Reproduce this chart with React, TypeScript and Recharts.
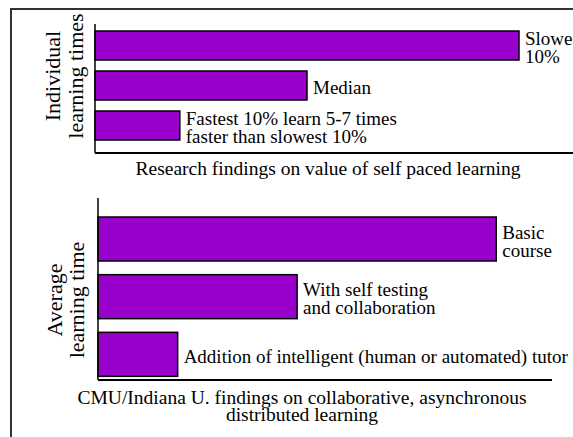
import React from "react";
import { BarChart, Bar, XAxis, YAxis } from "recharts";

// 色とフォント
const PURPLE = "#9900CC";
const FONT = "Liberation Serif, Times New Roman, serif";

// 上のパネル: 個人の学習時間
const topCategories = ["Slowest 10%", "Median", "Fastest 10%"];
const topValues = [100, 50, 20];
const topLabels = [
  ["Slowest", "10%"],
  ["Median"],
  ["Fastest 10% learn 5-7 times", "faster than slowest 10%"],
];
const topTitle = ["Individual", "learning times"];
const topCaption = ["Research findings on value of self paced learning"];

// 下のパネル: 平均学習時間
const bottomCategories = ["Basic course", "Self testing", "Tutor"];
const bottomValues = [100, 50, 20];
const bottomLabels = [
  ["Basic", "course"],
  ["With self testing", "and collaboration"],
  ["Addition of intelligent (human or automated) tutor"],
];
const bottomTitle = ["Average", "learning time"];
const bottomCaption = [
  "CMU/Indiana U. findings on collaborative, asynchronous",
  "distributed learning",
];

const topData = topCategories.map((name, i) => ({
  name,
  value: topValues[i],
  lines: topLabels[i],
}));
const bottomData = bottomCategories.map((name, i) => ({
  name,
  value: bottomValues[i],
  lines: bottomLabels[i],
}));

// 棒と右側の注記を一緒に描く
const LabeledBar = (props: any) => {
  const { x, y, width, height, payload } = props;
  const lines: string[] = payload?.lines ?? [];
  const lh = 18;
  const tx = x + width + 6;
  const cy = y + height / 2 + 2;
  const startY = cy - ((lines.length - 1) * lh) / 2 + 6.5;
  return (
    <g>
      <rect
        x={x}
        y={y}
        width={width}
        height={height}
        fill={PURPLE}
        stroke="#000"
        strokeWidth={1.5}
      />
      <text x={tx} fill="#000" fontFamily={FONT} fontSize={19}>
        {lines.map((l, i) => (
          <tspan key={i} x={tx} y={startY + i * lh}>
            {l}
          </tspan>
        ))}
      </text>
    </g>
  );
};

export default function App() {
  return (
    <div
      style={{
        position: "absolute",
        left: 0,
        top: 0,
        width: 573,
        height: 437,
        overflow: "hidden",
        background: "#fff",
        fontFamily: FONT,
      }}
    >
      <div
        style={{
          position: "absolute",
          left: 10,
          top: 8,
          width: 700,
          height: 600,
          border: "2px solid #333",
        }}
      />

      <div style={{ position: "absolute", left: 0, top: 0 }}>
        <BarChart
          width={700}
          height={170}
          data={topData}
          layout="vertical"
          margin={{ top: 24, left: 94, right: 75, bottom: 16 }}
        >
          <XAxis
            type="number"
            domain={[0, 125]}
            height={1}
            tick={false}
            tickLine={false}
            axisLine={{ stroke: "#000", strokeWidth: 2 }}
          />
          <YAxis
            type="category"
            dataKey="name"
            width={1}
            tick={false}
            tickLine={false}
            padding={{ top: 1, bottom: 8 }}
            axisLine={{ stroke: "#000", strokeWidth: 1.5 }}
          />
          <Bar
            dataKey="value"
            barSize={29}
            shape={LabeledBar}
            isAnimationActive={false}
          />
        </BarChart>
      </div>

      <div style={{ position: "absolute", left: 0, top: 0 }}>
        <BarChart
          width={700}
          height={437}
          data={bottomData}
          layout="vertical"
          margin={{ top: 198, left: 97, right: 148, bottom: 56 }}
        >
          <XAxis
            type="number"
            domain={[0, 114]}
            height={1}
            tick={false}
            tickLine={false}
            axisLine={{ stroke: "#000", strokeWidth: 2 }}
          />
          <YAxis
            type="category"
            dataKey="name"
            width={1}
            tick={false}
            tickLine={false}
            padding={{ top: 12, bottom: -3 }}
            axisLine={{ stroke: "#000", strokeWidth: 1.5 }}
          />
          <Bar
            dataKey="value"
            barSize={44}
            shape={LabeledBar}
            isAnimationActive={false}
          />
        </BarChart>
      </div>

      <svg
        width={573}
        height={437}
        style={{ position: "absolute", left: 0, top: 0, pointerEvents: "none" }}
      >
        <g fontFamily={FONT} fill="#000" textAnchor="middle">
          {topTitle.map((t, i) => (
            <text
              key={t}
              fontSize={22}
              transform={`translate(${52 + i * 23},76) rotate(-90)`}
              dy="0.35em"
            >
              {t}
            </text>
          ))}
          {bottomTitle.map((t, i) => (
            <text
              key={t}
              fontSize={22}
              transform={`translate(${54 + i * 22},300) rotate(-90)`}
              dy="0.35em"
            >
              {t}
            </text>
          ))}
          {topCaption.map((t, i) => (
            <text key={t} x={328} y={168 + i * 17} fontSize={19.5} dy="0.35em">
              {t}
            </text>
          ))}
          {bottomCaption.map((t, i) => (
            <text key={t} x={302} y={397 + i * 17} fontSize={19.5} dy="0.35em">
              {t}
            </text>
          ))}
        </g>
      </svg>
    </div>
  );
}
